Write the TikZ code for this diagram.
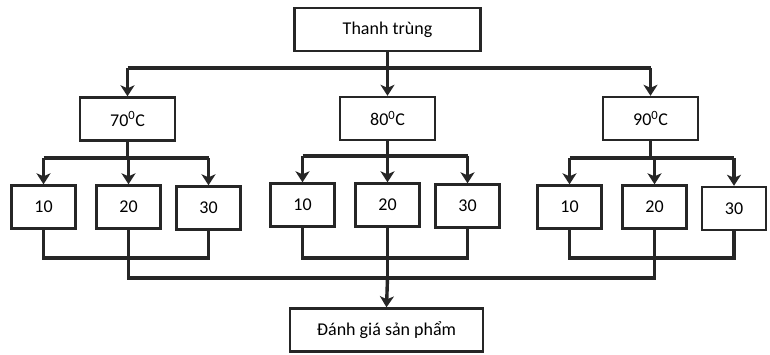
\documentclass[tikz,border=0pt]{standalone}
\usepackage{fontspec}
\setmainfont{Carlito}
\usetikzlibrary{arrows.meta}
\begin{document}
\begin{tikzpicture}[x=1pt,y=-1pt,
  box/.style={draw=black!85,line width=2.4pt,minimum height=43pt,inner sep=0pt,font=\fontsize{18}{21}\selectfont},
  bigbox/.style={box,minimum width=186pt},
  midbox/.style={box,minimum width=95pt},
  smallbox/.style={box,minimum width=64pt},
  conn/.style={draw=black!85,line width=3.4pt},
  arr/.style={conn,-{Stealth[length=11pt,width=14pt,inset=3pt]}}]
\useasboundingbox (0,0) rectangle (770,354);
% boxes
\node[bigbox] (top) at (387.5,29.5) {Thanh trùng};
\node[midbox] (t70) at (127.5,119) {70\textsuperscript{0}C};
\node[midbox] (t80) at (387.5,118.5) {80\textsuperscript{0}C};
\node[midbox] (t90) at (650.5,118.5) {90\textsuperscript{0}C};
\node[smallbox] (a1) at (43.5,207) {10};
\node[smallbox] (a2) at (128.5,207) {20};
\node[smallbox] (a3) at (208.5,208) {30};
\node[smallbox] (b1) at (302.5,205) {10};
\node[smallbox] (b2) at (387.5,205) {20};
\node[smallbox] (b3) at (467.5,206) {30};
\node[smallbox] (c1) at (569.5,207) {10};
\node[smallbox] (c2) at (654.5,207) {20};
\node[smallbox] (c3) at (734,208.5) {30};
\node[bigbox,minimum width=193pt] (end) at (386.5,330) {Đánh giá sản phẩm};
% coordinates
\coordinate (h0) at (0,68);
\coordinate (ha) at (0,158);
\coordinate (hb) at (0,156);
\coordinate (hc) at (0,158);
\coordinate (la) at (0,258);
\coordinate (lb) at (0,258);
\coordinate (lc) at (0,258);
\coordinate (ll) at (0,278);
% top level
\draw[conn] (top.south) -- (top.south |- h0);
\draw[conn] (t70.north |- h0) -- (t90.north |- h0);
\draw[arr] (t70.north |- h0) -- (t70.north);
\draw[arr] (t80.north |- h0) -- (t80.north);
\draw[arr] (t90.north |- h0) -- (t90.north);
% group 70
\draw[conn] (t70.south) -- (t70.south |- ha);
\draw[conn] (a1.north |- ha) -- (a3.north |- ha);
\draw[arr] (a1.north |- ha) -- (a1.north);
\draw[arr] (a2.north |- ha) -- (a2.north);
\draw[arr] (a3.north |- ha) -- (a3.north);
% group 80
\draw[conn] (t80.south) -- (t80.south |- hb);
\draw[conn] (b1.north |- hb) -- (b3.north |- hb);
\draw[arr] (b1.north |- hb) -- (b1.north);
\draw[arr] (b2.north |- hb) -- (b2.north);
\draw[arr] (b3.north |- hb) -- (b3.north);
% group 90
\draw[conn] (t90.south) -- (t90.south |- hc);
\draw[conn] (c1.north |- hc) -- (c3.north |- hc);
\draw[arr] (c1.north |- hc) -- (c1.north);
\draw[arr] (c2.north |- hc) -- (c2.north);
\draw[arr] (c3.north |- hc) -- (c3.north);
% bottom joins
\draw[conn] (a1.south) -- (a1.south |- la) -- (a3.south |- la) -- (a3.south);
\draw[conn] (b1.south) -- (b1.south |- lb) -- (b3.south |- lb) -- (b3.south);
\draw[conn] (c1.south) -- (c1.south |- lc) -- (c3.south |- lc) -- (c3.south);
\draw[conn] (a2.south) -- (a2.south |- ll) -- (c2.south |- ll) -- (c2.south);
\draw[conn] (b2.south) -- (b2.south |- ll);
\draw[arr] (b2.south |- ll) -- (end.north);
\end{tikzpicture}
\end{document}
